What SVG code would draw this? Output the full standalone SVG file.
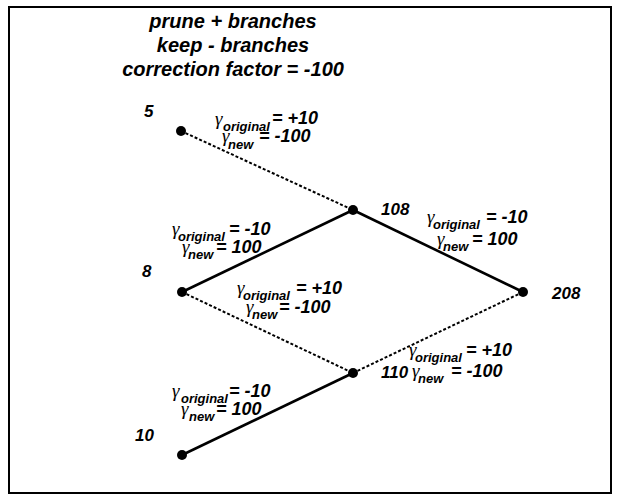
<svg xmlns="http://www.w3.org/2000/svg" width="620" height="495" viewBox="0 0 620 495">
  <style>
    text { font-family: "Liberation Sans", Arial, sans-serif; font-weight: bold; font-style: italic; fill: #000; font-size: 18px; }
    .title { font-size: 20px; text-anchor: middle; }
    .num { font-size: 17px; }
    .g { font-size: 19px; font-family: "Liberation Serif", "DejaVu Serif", serif; font-weight: normal; }
    .sub { font-size: 13px; }
    .solid { stroke: #000; stroke-width: 2.6; fill: none; }
    .dot { stroke: #000; stroke-width: 2; stroke-dasharray: 3 2; fill: none; }
    .node { fill: #000; }
  </style>

  <rect x="0" y="0" width="620" height="495" fill="#fff"/>
  <rect x="9" y="7" width="602" height="486" fill="none" stroke="#000" stroke-width="2"/>

  <g id="title">
    <text class="title" x="233" y="28">prune + branches</text>
    <text class="title" x="233" y="52">keep - branches</text>
    <text class="title" x="233" y="76">correction factor = -100</text>
  </g>

  <g id="connectors">
    <line class="dot" x1="181" y1="131" x2="353" y2="210"/>
    <line class="solid" x1="182" y1="292" x2="353" y2="210"/>
    <line class="dot" x1="182" y1="292" x2="353" y2="373"/>
    <line class="solid" x1="182" y1="455" x2="353" y2="373"/>
    <line class="solid" x1="353" y1="210" x2="523" y2="292"/>
    <line class="dot" x1="353" y1="373" x2="523" y2="292"/>
  </g>

  <g id="n5"><circle class="node" cx="181" cy="131" r="5"/><text class="num" x="144" y="117">5</text></g>
  <g id="n8"><circle class="node" cx="182" cy="292" r="5"/><text class="num" x="142" y="277">8</text></g>
  <g id="n10"><circle class="node" cx="182" cy="455" r="5"/><text class="num" x="135" y="441">10</text></g>
  <g id="n108"><circle class="node" cx="353" cy="210" r="5"/><text class="num" x="381" y="215">108</text></g>
  <g id="n110"><circle class="node" cx="353" cy="373" r="5"/><text class="num" x="381" y="378">110</text></g>
  <g id="n208"><circle class="node" cx="523" cy="292" r="5"/><text class="num" x="552" y="299">208</text></g>

  <!-- each line: gamma, lowered subscript, then the value back on the baseline -->
  <g id="edge-labels">
    <!-- 5 to 108 -->
    <text x="215" y="125"><tspan class="g">γ</tspan><tspan class="sub" x="223" dy="6">original</tspan><tspan x="272" dy="-7">= +10</tspan></text>
    <text x="222" y="142"><tspan class="g">γ</tspan><tspan class="sub" x="228" dy="7">new</tspan><tspan x="259" dy="-7">= -100</tspan></text>
    <!-- 8 to 108 -->
    <text x="172" y="235"><tspan class="g">γ</tspan><tspan class="sub" x="178" dy="6">original</tspan><tspan x="229" dy="-6">= -10</tspan></text>
    <text x="182" y="253"><tspan class="g">γ</tspan><tspan class="sub" x="188" dy="6">new</tspan><tspan x="216" dy="-6">= 100</tspan></text>
    <!-- 8 to 110 -->
    <text x="237" y="294"><tspan class="g">γ</tspan><tspan class="sub" x="243" dy="6">original</tspan><tspan x="296" dy="-6">= +10</tspan></text>
    <text x="246" y="313"><tspan class="g">γ</tspan><tspan class="sub" x="252" dy="6">new</tspan><tspan x="279" dy="-6">= -100</tspan></text>
    <!-- 108 to 208 -->
    <text x="427" y="223"><tspan class="g">γ</tspan><tspan class="sub" x="433" dy="6">original</tspan><tspan x="486" dy="-6">= -10</tspan></text>
    <text x="437" y="245"><tspan class="g">γ</tspan><tspan class="sub" x="443" dy="6">new</tspan><tspan x="472" dy="-6">= 100</tspan></text>
    <!-- 110 to 208 -->
    <text x="409" y="356"><tspan class="g">γ</tspan><tspan class="sub" x="415" dy="6">original</tspan><tspan x="466" dy="-6">= +10</tspan></text>
    <text x="412" y="377"><tspan class="g">γ</tspan><tspan class="sub" x="418" dy="6">new</tspan><tspan x="451" dy="-6">= -100</tspan></text>
    <!-- 10 to 110 -->
    <text x="172" y="397"><tspan class="g">γ</tspan><tspan class="sub" x="181" dy="6">original</tspan><tspan x="229" dy="-6">= -10</tspan></text>
    <text x="181" y="415"><tspan class="g">γ</tspan><tspan class="sub" x="189" dy="6">new</tspan><tspan x="216" dy="-6">= 100</tspan></text>
  </g>
</svg>
